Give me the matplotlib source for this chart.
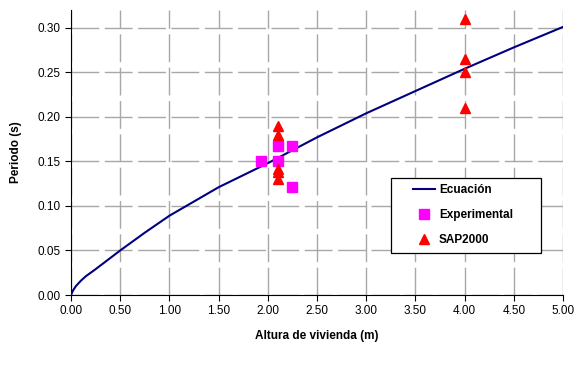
import numpy as np
import matplotlib.pyplot as plt
from matplotlib.patches import Rectangle

plt.rcParams['font.family'] = ['Liberation Sans', 'DejaVu Sans']

# Ecuación
h_ec = [0.0, 0.02, 0.05, 0.1, 0.15, 0.25, 0.5, 0.75, 1.0, 1.5, 2.0, 2.5, 3.0, 3.5, 4.0, 4.5, 5.0]
t_ec = [0.0, 0.005, 0.010, 0.016, 0.021, 0.029, 0.050, 0.070, 0.089, 0.121, 0.148, 0.177, 0.204, 0.229, 0.254, 0.278, 0.301]

# Experimental
h_exp = [1.93, 2.10, 2.10, 2.25, 2.25]
t_exp = [0.150, 0.167, 0.151, 0.167, 0.121]

# SAP2000
h_sap = [2.10, 2.10, 2.10, 2.10, 2.10, 4.00, 4.00, 4.00, 4.00]
t_sap = [0.190, 0.180, 0.142, 0.138, 0.130, 0.310, 0.265, 0.250, 0.210]

W, H = 575, 372
x0, x1, y0, y1 = 71, 563, 295, 10   # bordes del área de trazado (px)
aw, ah = x1 - x0, y0 - y1

fig = plt.figure(figsize=(W/100, H/100), dpi=100)
ax = fig.add_axes([x0/W, (H - y0)/H, aw/W, ah/H])

ax.plot(h_ec, t_ec, color='#000080', lw=1.5, label='Ecuación', zorder=3)
ax.plot(h_exp, t_exp, 's', color='#FF00FF', ms=6.5, label='Experimental', zorder=4)
ax.plot(h_sap, t_sap, '^', color='#FF0000', ms=7, label='SAP2000', zorder=4)

ax.set_xlim(0, 5)
ax.set_ylim(0, 0.32)
xt = np.arange(0, 5.01, 0.5)
yt = np.arange(0, 0.301, 0.05)
ax.set_xticks(xt)
ax.set_yticks(yt)
ax.set_xticklabels([f'{v:.2f}' for v in xt])
ax.set_yticklabels([f'{v:.2f}' for v in yt])
ax.tick_params(labelsize=8.5, direction='out', length=4, width=0.8, colors='black')

ax.grid(True, color='#A8A8A8', lw=1, linestyle=(0, (20, 4)))
ax.set_axisbelow(True)
ax.spines['top'].set_visible(False)
ax.spines['right'].set_visible(False)

ax.set_xlabel('Altura de vivienda (m)', fontsize=8.5, fontweight='bold', labelpad=9)
ax.set_ylabel('Periodo (s)', fontsize=8.5, fontweight='bold', labelpad=11)

# recuadro de la leyenda
ax.add_patch(Rectangle(((391 - x0)/aw, (y0 - 253)/ah), 150/aw, 75/ah,
                       transform=ax.transAxes, facecolor='white',
                       edgecolor='black', lw=0.9, zorder=5))
leg = ax.legend(loc='upper left', bbox_to_anchor=((413 - x0)/aw, (y0 - 184)/ah),
                prop={'weight': 'bold', 'size': 8.5}, frameon=False,
                borderpad=0, borderaxespad=0, handlelength=1.85,
                handletextpad=0.35, labelspacing=1.1)
leg.set_zorder(6)

fig.savefig('out.png', dpi=100)
